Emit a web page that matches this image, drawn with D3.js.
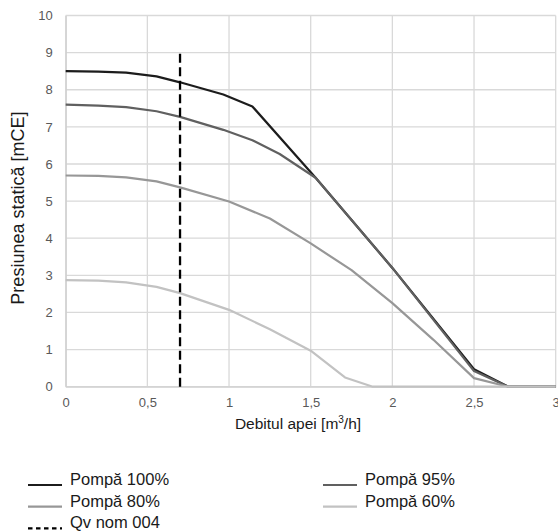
<!DOCTYPE html>
<html>
<head>
<meta charset="utf-8">
<script src="https://cdn.jsdelivr.net/npm/d3@7"></script>
<style>
  html, body { margin: 0; padding: 0; background: #fff; }
  svg text { font-family: "Liberation Sans", Arial, sans-serif; }
</style>
</head>
<body>
<svg id="chart" width="558" height="532"></svg>
<script>
// Pump curves: static pressure [mCE] versus water flow [m3/h]
const flow100 = [0, 0.2, 0.37, 0.556, 0.7, 0.965, 1.143, 1.53, 2.0, 2.5, 2.71, 3.0];
const head100 = [8.5, 8.49, 8.46, 8.36, 8.2, 7.87, 7.55, 5.63, 3.2, 0.47, 0, 0];

const flow95 = [0, 0.2, 0.37, 0.556, 0.7, 0.965, 1.143, 1.31, 1.53, 2.0, 2.5, 2.71, 3.0];
const head95 = [7.6, 7.57, 7.53, 7.42, 7.27, 6.92, 6.64, 6.27, 5.63, 3.2, 0.42, 0, 0];

const flow80 = [0, 0.2, 0.37, 0.556, 0.7, 1.0, 1.25, 1.5, 1.75, 2.0, 2.25, 2.5, 2.71, 3.0];
const head80 = [5.69, 5.68, 5.64, 5.53, 5.37, 4.99, 4.53, 3.86, 3.14, 2.25, 1.27, 0.23, 0, 0];

const flow60 = [0, 0.2, 0.37, 0.556, 0.7, 1.0, 1.25, 1.5, 1.71, 1.88, 3.0];
const head60 = [2.87, 2.86, 2.81, 2.69, 2.52, 2.07, 1.55, 0.97, 0.25, 0, 0];

// Nominal flow marker
const qvNomFlow = [0.7, 0.7];
const qvNomHead = [0, 9];

const seriesNames = ["Pompă 100%", "Pompă 95%", "Pompă 80%", "Pompă 60%"];
const qvNomName = "Qv nom 004";

const xTicks = [0, 0.5, 1, 1.5, 2, 2.5, 3];
const xTickLabels = ["0", "0,5", "1", "1,5", "2", "2,5", "3"];
const yTicks = [0, 1, 2, 3, 4, 5, 6, 7, 8, 9, 10];

const xTitle = "Debitul apei [m";
const xTitleSup = "3";
const xTitleEnd = "/h]";
const yTitle = "Presiunea statică [mCE]";

const colors = ["#1c1c1c", "#606060", "#979797", "#c2c2c2"];

const svg = d3.select("#chart");
const margin = { left: 65.7, right: 2.3, top: 15.5, bottom: 145.3 };
const W = 558, H = 532;

const x = d3.scaleLinear().domain([0, 3]).range([margin.left, W - margin.right]);
const y = d3.scaleLinear().domain([0, 10]).range([H - margin.bottom, margin.top]);

// Gridlines
const grid = svg.append("g");
grid.selectAll("line.h").data(yTicks).enter().append("line")
  .attr("x1", x(0)).attr("x2", x(3))
  .attr("y1", d => y(d)).attr("y2", d => y(d))
  .attr("stroke", "#d9d9d9").attr("stroke-width", 1.3);
grid.selectAll("line.v").data(xTicks).enter().append("line")
  .attr("y1", y(0)).attr("y2", y(10))
  .attr("x1", d => x(d)).attr("x2", d => x(d))
  .attr("stroke", "#d9d9d9").attr("stroke-width", 1.3);

// Axes (labels only, lines come from the grid)
const xAxis = d3.axisBottom(x).tickValues(xTicks)
  .tickFormat((d, i) => xTickLabels[i]).tickSize(0).tickPadding(11);
const gx = svg.append("g").attr("transform", `translate(0,${y(0)})`).call(xAxis);
gx.select(".domain").attr("stroke", "#d0d0d0").attr("stroke-width", 1.3);
gx.selectAll("text").attr("font-size", 13).attr("fill", "#595959")
  .attr("font-family", "Liberation Sans, Arial, sans-serif");

const yAxis = d3.axisLeft(y).tickValues(yTicks).tickSize(0).tickPadding(13);
const gy = svg.append("g").attr("transform", `translate(${x(0)},0)`).call(yAxis);
gy.select(".domain").attr("stroke", "#d0d0d0").attr("stroke-width", 1.3);
gy.selectAll("text").attr("font-size", 13).attr("fill", "#595959")
  .attr("font-family", "Liberation Sans, Arial, sans-serif");

// Curves
const line = d3.line().x(d => x(d[0])).y(d => y(d[1]));
const series = [
  d3.zip(flow100, head100),
  d3.zip(flow95, head95),
  d3.zip(flow80, head80),
  d3.zip(flow60, head60)
];
svg.append("g").selectAll("path").data(series).enter().append("path")
  .attr("d", line)
  .attr("fill", "none")
  .attr("stroke", (d, i) => colors[i])
  .attr("stroke-width", 2.2)
  .attr("stroke-linejoin", "round");

// Nominal flow line
svg.append("path")
  .attr("d", line(d3.zip(qvNomFlow, qvNomHead)))
  .attr("fill", "none")
  .attr("stroke", "#000")
  .attr("stroke-width", 2.3)
  .attr("stroke-dasharray", "9,4.5");

// Axis titles
const xt = svg.append("text")
  .attr("x", 298).attr("y", 429)
  .attr("text-anchor", "middle")
  .attr("font-size", 15.5).attr("fill", "#1a1a1a");
xt.append("tspan").text(xTitle);
xt.append("tspan").attr("font-size", 10).attr("dy", -6).text(xTitleSup);
xt.append("tspan").attr("dy", 6).text(xTitleEnd);

svg.append("text")
  .attr("transform", `translate(23.5,${(y(0) + y(10)) / 2 + 7}) rotate(-90)`)
  .attr("text-anchor", "middle")
  .attr("font-size", 18).attr("fill", "#1a1a1a")
  .text(yTitle);

// Legend
const legendItems = [
  { name: seriesNames[0], color: colors[0], dash: null, col: 0, row: 0 },
  { name: seriesNames[1], color: colors[1], dash: null, col: 1, row: 0 },
  { name: seriesNames[2], color: colors[2], dash: null, col: 0, row: 1 },
  { name: seriesNames[3], color: colors[3], dash: null, col: 1, row: 1 },
  { name: qvNomName, color: "#000", dash: "4.5,3.5", col: 0, row: 2 }
];
const lg = svg.append("g");
const item = lg.selectAll("g").data(legendItems).enter().append("g")
  .attr("transform", d => `translate(${d.col ? 323 : 28},${485 + d.row * 21.7})`);
item.append("line")
  .attr("x1", 0).attr("x2", 34).attr("y1", 0).attr("y2", 0)
  .attr("stroke", d => d.color).attr("stroke-width", 2.2)
  .attr("stroke-dasharray", d => d.dash);
item.append("text")
  .attr("x", 42).attr("y", 0)
  .attr("font-size", 16.5).attr("fill", "#1a1a1a")
  .text(d => d.name);
</script>
</body>
</html>
